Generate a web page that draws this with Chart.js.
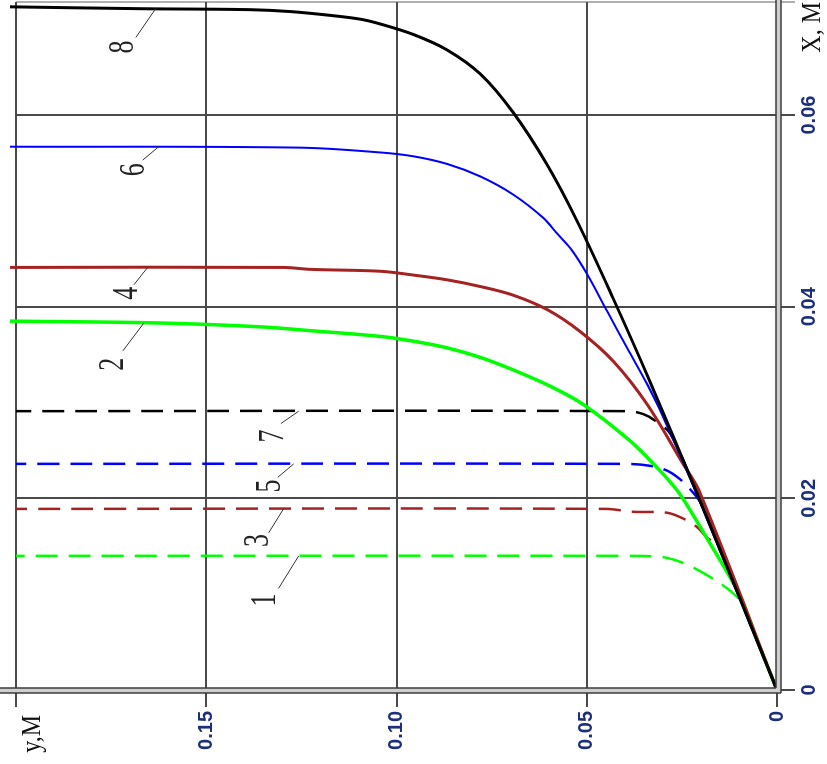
<!DOCTYPE html>
<html>
<head>
<meta charset="utf-8">
<script src="https://cdn.jsdelivr.net/npm/chart.js@4.4.1/dist/chart.umd.min.js"></script>
<style>
html, body { margin: 0; padding: 0; background: #fff; overflow: hidden; }
/* the plot is drawn upright and then turned a quarter to the left, like the scan */
#wrap { position: absolute; left: 0; top: 0; width: 764px; height: 827px;
        transform-origin: 0 0; transform: translate(0, 764px) rotate(-90deg); }
</style>
</head>
<body>
<div id="wrap"><canvas id="myChart" width="764" height="827"></canvas></div>
<script>
// X, m  and  y, m  for every curve
var x1 = [0, 0.0090, 0.0097, 0.0106, 0.0118, 0.0128, 0.0135, 0.0139, 0.0140, 0.0140];
var y1 = [0, 0.0092, 0.0105, 0.0131, 0.0176, 0.0221, 0.0263, 0.0307, 0.0400, 0.2000];

var x2 = [0, 0.0050, 0.0094, 0.0125, 0.0153, 0.0181, 0.0208, 0.0232, 0.0260, 0.0298, 0.0317, 0.0334, 0.0347, 0.0357, 0.0364, 0.0369, 0.0375, 0.0379, 0.0383, 0.0385];
var y2 = [0, 0.0050, 0.0092, 0.0134, 0.0176, 0.0218, 0.0262, 0.0315, 0.0386, 0.0509, 0.0596, 0.0693, 0.0779, 0.0866, 0.0955, 0.1042, 0.1226, 0.1357, 0.1620, 0.2020];

var x3 = [0, 0.0150, 0.0159, 0.0170, 0.0179, 0.0185, 0.0186, 0.0189, 0.0189];
var y3 = [0, 0.0154, 0.0184, 0.0210, 0.0247, 0.0289, 0.0378, 0.0450, 0.2000];

var x4 = [0, 0.0208, 0.0236, 0.0298, 0.0343, 0.0374, 0.0397, 0.0412, 0.0421, 0.0428, 0.0433, 0.0437, 0.0439, 0.0441, 0.0441];
var y4 = [0, 0.0205, 0.0247, 0.0341, 0.0430, 0.0517, 0.0604, 0.0693, 0.0779, 0.0866, 0.0955, 0.1042, 0.1226, 0.1297, 0.2020];

var x5 = [0, 0.0195, 0.0208, 0.0220, 0.0229, 0.0234, 0.0236, 0.0236];
var y5 = [0, 0.0200, 0.0225, 0.0255, 0.0289, 0.0334, 0.0400, 0.2000];

var x6 = [0, 0.0205, 0.0294, 0.0319, 0.0357, 0.0395, 0.0434, 0.0460, 0.0476, 0.0493, 0.0517, 0.0536, 0.0549, 0.0557, 0.0561, 0.0566, 0.0567];
var y6 = [0, 0.0212, 0.0310, 0.0341, 0.0394, 0.0446, 0.0499, 0.0541, 0.0577, 0.0615, 0.0693, 0.0780, 0.0867, 0.0956, 0.1043, 0.1253, 0.2020];

var x7 = [0, 0.0205, 0.0267, 0.0281, 0.0288, 0.0291, 0.0291];
var y7 = [0, 0.0210, 0.0280, 0.0320, 0.0352, 0.0394, 0.2000];

var x8 = [0, 0.0205, 0.0322, 0.0409, 0.0489, 0.0548, 0.0603, 0.0643, 0.0668, 0.0684, 0.0695, 0.0700, 0.0704, 0.0708, 0.0710, 0.0711, 0.0713];
var y8 = [0, 0.0210, 0.0334, 0.0431, 0.0525, 0.0604, 0.0694, 0.0780, 0.0867, 0.0955, 0.1042, 0.1094, 0.1173, 0.1278, 0.1385, 0.1670, 0.2020];

// curve numbers and their leader lines (in data units)
var labelText = ['1', '2', '3', '4', '5', '6', '7', '8'];
var labelX   = [0.0094, 0.0340, 0.0156, 0.0414, 0.0213, 0.0543, 0.0265, 0.0671];
var labelY   = [0.1344, 0.1743, 0.1362, 0.1706, 0.1331, 0.1690, 0.1323, 0.1717];
var leaderX0 = [0.0106, 0.0354, 0.0164, 0.0423, 0.0222, 0.0553, 0.0278, 0.0681];
var leaderY0 = [0.1310, 0.1719, 0.1336, 0.1690, 0.1312, 0.1667, 0.1304, 0.1685];
var leaderX1 = [0.0140, 0.0383, 0.0189, 0.0441, 0.0236, 0.0567, 0.0291, 0.0711];
var leaderY1 = [0.1257, 0.1664, 0.1297, 0.1654, 0.1270, 0.1625, 0.1257, 0.1633];

var xTicksStep = 0.02;
var yTicksStep = 0.05;

function pts(xs, ys) {
    return xs.map(function (v, i) { return { x: v, y: ys[i] }; });
}

// drawn first = on top
var series = [
    { d: pts(x8, y8), color: '#000000', w: 3,   dash: [] },
    { d: pts(x6, y6), color: '#0000ff', w: 2,   dash: [] },
    { d: pts(x4, y4), color: '#a52222', w: 3,   dash: [] },
    { d: pts(x2, y2), color: '#00ff00', w: 3.5, dash: [] },
    { d: pts(x7, y7), color: '#000000', w: 2.5, dash: [22, 11] },
    { d: pts(x5, y5), color: '#0000ff', w: 2.5, dash: [22, 11] },
    { d: pts(x3, y3), color: '#a52222', w: 2.5, dash: [22, 11] },
    { d: pts(x1, y1), color: '#00ff00', w: 2.5, dash: [22, 11] }
];

var tickFont = { family: 'Liberation Sans', size: 20, weight: 'bold' };
var tickColor = '#1c2f7a';

function fmt(v, max) {
    if (Math.abs(v) < 1e-9) return '0';
    if (v > max) return '';
    return v.toFixed(2);
}

function stretchText(ctx, t, x, y, sy) {
    ctx.save();
    ctx.translate(x, y);
    ctx.scale(1, sy);
    ctx.fillText(t, 0, 0);
    ctx.restore();
}

var decor = {
    id: 'decor',
    afterDatasetsDraw: function (chart) {
        var ctx = chart.ctx, sx = chart.scales.x, sy = chart.scales.y;
        var x0 = sx.getPixelForValue(0), y0 = sy.getPixelForValue(0);
        ctx.save();
        // double axis lines
        ctx.fillStyle = '#cfcfcf';
        ctx.fillRect(x0 - 3, 0, 5, y0 + 4);
        ctx.fillRect(x0 - 3, y0 - 1, chart.width - x0 + 3, 5);
        ctx.strokeStyle = '#3c3c3c';
        ctx.lineWidth = 1.5;
        ctx.beginPath();
        ctx.moveTo(x0 - 3, 0); ctx.lineTo(x0 - 3, y0 + 4);
        ctx.moveTo(x0 + 2, 0); ctx.lineTo(x0 + 2, y0 - 1);
        ctx.moveTo(x0 + 2, y0 - 1); ctx.lineTo(chart.width, y0 - 1);
        ctx.moveTo(x0 - 3, y0 + 4); ctx.lineTo(chart.width, y0 + 4);
        ctx.stroke();

        // leader lines and curve numbers
        ctx.strokeStyle = '#333';
        ctx.lineWidth = 1;
        ctx.fillStyle = '#222';
        ctx.font = '26px "Liberation Serif"';
        ctx.textAlign = 'center';
        ctx.textBaseline = 'middle';
        for (var i = 0; i < labelText.length; i++) {
            ctx.beginPath();
            ctx.moveTo(sx.getPixelForValue(leaderX0[i]), sy.getPixelForValue(leaderY0[i]));
            ctx.lineTo(sx.getPixelForValue(leaderX1[i]), sy.getPixelForValue(leaderY1[i]));
            ctx.stroke();
            stretchText(ctx, labelText[i], sx.getPixelForValue(labelX[i]), sy.getPixelForValue(labelY[i]), 1.4);
        }

        // axis names
        ctx.fillStyle = '#111';
        ctx.font = '24px "Liberation Serif"';
        ctx.textAlign = 'right';
        stretchText(ctx, 'X, M', chart.width - 2, y0 + 36, 1.15);
        stretchText(ctx, 'y,M', x0 - 25, chart.chartArea.top + 17, 1.15);
        ctx.restore();
    }
};

new Chart('myChart', {
    type: 'line',
    data: {
        datasets: series.map(function (s) {
            return {
                data: s.d,
                borderColor: s.color,
                borderWidth: s.w,
                borderDash: s.dash,
                pointRadius: 0,
                tension: 0.35,
                fill: false,
                clip: 6
            };
        })
    },
    options: {
        responsive: false,
        animation: false,
        layout: { padding: { top: 15, right: 0, left: 0, bottom: 0 } },
        plugins: { legend: { display: false }, tooltip: { enabled: false }, title: { display: false } },
        scales: {
            x: {
                type: 'linear',
                min: 0,
                max: 0.0718,
                ticks: {
                    stepSize: xTicksStep,
                    maxRotation: 0,
                    padding: 2,
                    font: tickFont,
                    color: tickColor,
                    callback: function (v) { return fmt(v, 0.07); }
                },
                grid: {
                    lineWidth: 2,
                    tickLength: 18,
                    color: function (c) { return c.tick && c.tick.value > 0.07 ? '#b0b0b0' : '#4a4a4a'; }
                },
                border: { display: false },
                afterFit: function (s) { s.height = 50; }
            },
            y: {
                type: 'linear',
                min: 0,
                max: 0.2,
                ticks: {
                    stepSize: yTicksStep,
                    padding: 4,
                    font: tickFont,
                    color: tickColor,
                    callback: function (v) { return fmt(v, 0.19); }
                },
                grid: { lineWidth: 2, tickLength: 17, color: '#4a4a4a' },
                border: { display: false },
                afterFit: function (s) { s.width = 74; }
            }
        }
    },
    plugins: [decor]
});
</script>
</body>
</html>
